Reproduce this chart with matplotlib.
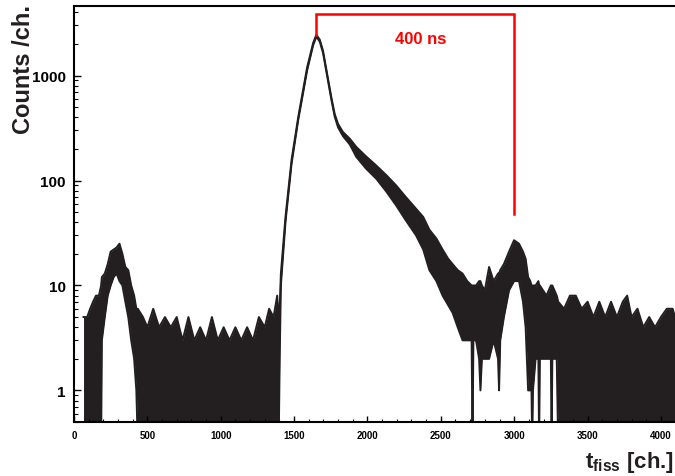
import numpy as np
import matplotlib.pyplot as plt
from matplotlib.ticker import FixedLocator, NullFormatter, MultipleLocator

plt.rcParams['font.family'] = ['Liberation Sans', 'DejaVu Sans']
plt.rcParams['font.weight'] = 'bold'
plt.rcParams['mathtext.fontset'] = 'custom'
plt.rcParams['mathtext.rm'] = 'Liberation Sans:bold'
plt.rcParams['mathtext.bf'] = 'Liberation Sans:bold'
plt.rcParams['mathtext.it'] = 'Liberation Sans:bold'

# fission time spectrum: channel -> lower / upper edge of the noisy band (counts per channel)
# left bump
channel = [65, 90, 110, 130, 150, 170, 185, 190, 210, 230, 250, 270, 290, 310, 330,
           350, 370, 390, 410, 425, 435, 470, 500,
           # flat background
           540, 580, 620, 660, 700, 740, 780, 820, 860, 900, 940, 980, 1020, 1060,
           1100, 1140, 1180, 1220, 1260, 1300, 1330, 1360, 1385,
           # prompt peak and decay
           1395, 1402, 1410, 1442, 1483, 1528, 1589, 1630, 1652, 1675,
           1697, 1738, 1754, 1777, 1800, 1833, 1880, 1924, 1990, 2060, 2130, 2195,
           2260, 2331, 2380, 2422, 2470, 2512, 2550, 2580, 2615, 2648, 2680,
           # dip and delayed bump
           2710, 2716, 2722, 2740, 2761, 2770, 2780, 2800, 2829, 2860, 2890, 2897,
           2905, 2930, 2965, 2999, 3033, 3060, 3078, 3095, 3110, 3118, 3123, 3128,
           3146, 3165, 3170, 3175, 3220, 3250, 3255, 3260, 3290,
           # tail background
           3300, 3340, 3380, 3420, 3460, 3500, 3540, 3580, 3620, 3660, 3700, 3740,
           3770, 3800, 3840, 3880, 3920, 3960, 4000, 4040, 4080, 4096]
counts_lo = [0, 0, 0, 0, 0, 0, 0, 3, 5, 8, 10, 12, 13, 11, 10,
             7, 5, 3, 2, 1, 0, 0, 0,
             0, 0, 0, 0, 0, 0, 0, 0, 0, 0, 0, 0, 0, 0,
             0, 0, 0, 0, 0, 0, 0, 0, 0,
             0, 2, 10, 41, 145, 375, 1120, 1950, 2350, 2100,
             1650, 780, 590, 405, 320, 265, 220, 168, 130, 104, 78, 58,
             42, 30, 22, 14, 11, 8, 6.5, 5.5, 4, 3, 3,
             3, 0, 3, 3, 2, 1, 2, 2, 2, 3, 2, 1,
             3, 5, 9, 11, 11, 7, 4, 1, 1, 1, 0, 1,
             2, 2, 0, 2, 2, 2, 0, 2, 2,
             0, 0, 0, 0, 0, 0, 0, 0, 0, 0, 0, 0,
             0, 0, 0, 0, 0, 0, 0, 0, 0, 0]
counts_hi = [5, 5, 6, 7, 8, 8, 10, 12, 13, 16, 21, 22, 23, 25, 20,
             15, 14, 10, 8, 6, 6, 5, 4,
             6, 4, 5, 4, 5, 3, 5, 3, 4, 3, 5, 3, 4, 3,
             4, 3, 4, 3, 5, 4, 6, 5, 8,
             5, 6, 13, 46, 158, 400, 1200, 2050, 2450, 2200,
             1730, 830, 620, 430, 345, 290, 250, 209, 170, 139, 112, 90,
             70, 54, 45, 34, 28, 22, 18, 16, 14, 13, 11,
             10, 10, 10, 10, 11, 11, 10, 9, 15, 11, 13, 13,
             14, 16, 21, 27, 25, 21, 18, 12, 11, 10, 10, 10,
             10, 11, 10, 10, 8, 10, 10, 10, 8,
             7, 6, 8, 8, 6, 7, 5, 7, 5, 7, 5, 7,
             8, 5, 6, 4, 5, 4, 5, 6, 6, 5]

# "400 ns" marker: from the prompt peak to the delayed bump
marker_ch = [1652, 1652, 3000, 3000]
marker_counts = [2450, 3900, 3900, 48]

ch = np.array(channel, dtype=float)
lo = np.maximum(np.array(counts_lo, dtype=float), 0.3)  # empty channels drop below the axis
hi = np.array(counts_hi, dtype=float)

fig = plt.figure(figsize=(6.75, 4.77), dpi=100)
ax = fig.add_axes([0.1096, 0.1132, 0.8904, 0.8721])

ink = '#231f20'
ax.fill_between(ch, lo, hi, color=ink, lw=0)
ax.plot(ch, hi, color=ink, lw=1.4)
ax.plot(ch, lo, color=ink, lw=1.4)

ax.plot(marker_ch, marker_counts, color='red', lw=1.8, solid_joinstyle='miter')
ax.text(2365, 2250, '400 ns', color='red', fontsize=12, fontweight='bold',
        ha='center', va='center')

ax.set_yscale('log')
ax.set_xlim(0, 4096)
ax.set_ylim(0.5, 4600)

ax.yaxis.set_major_locator(FixedLocator([1, 10, 100, 1000]))
ax.yaxis.set_minor_locator(FixedLocator([m * 10 ** e for e in range(-1, 4) for m in range(2, 10)]))
ax.yaxis.set_minor_formatter(NullFormatter())
ax.set_yticklabels(['1', '10', '100', '1000'])
ax.xaxis.set_major_locator(MultipleLocator(500))
ax.xaxis.set_minor_locator(MultipleLocator(100))

ax.tick_params(axis='y', which='major', direction='in', length=5, width=1,
               labelsize=11, pad=6)
ax.tick_params(axis='y', which='minor', direction='in', length=3, width=0.8)
ax.tick_params(axis='x', which='major', direction='in', length=4, width=1,
               labelsize=7, pad=6)
ax.tick_params(axis='x', which='minor', direction='in', length=2, width=0.8)
for lab in ax.get_xticklabels() + ax.get_yticklabels():
    lab.set_fontweight('bold')

for side in ['left', 'top', 'bottom']:
    ax.spines[side].set_linewidth(1.5)
ax.spines['right'].set_visible(False)

# the y title runs over the "1000" label, as in the ROOT canvas
fig.text(0.018, 0.99, 'Counts /ch.', rotation=90, fontsize=17, fontweight='bold',
         ha='left', va='top', color=ink)
fig.text(0.999, 0.005, r'$\mathbf{t_{fiss}}$ [ch.]', fontsize=16, fontweight='bold',
         ha='right', va='bottom', color=ink)

fig.savefig('out.png', dpi=100)
